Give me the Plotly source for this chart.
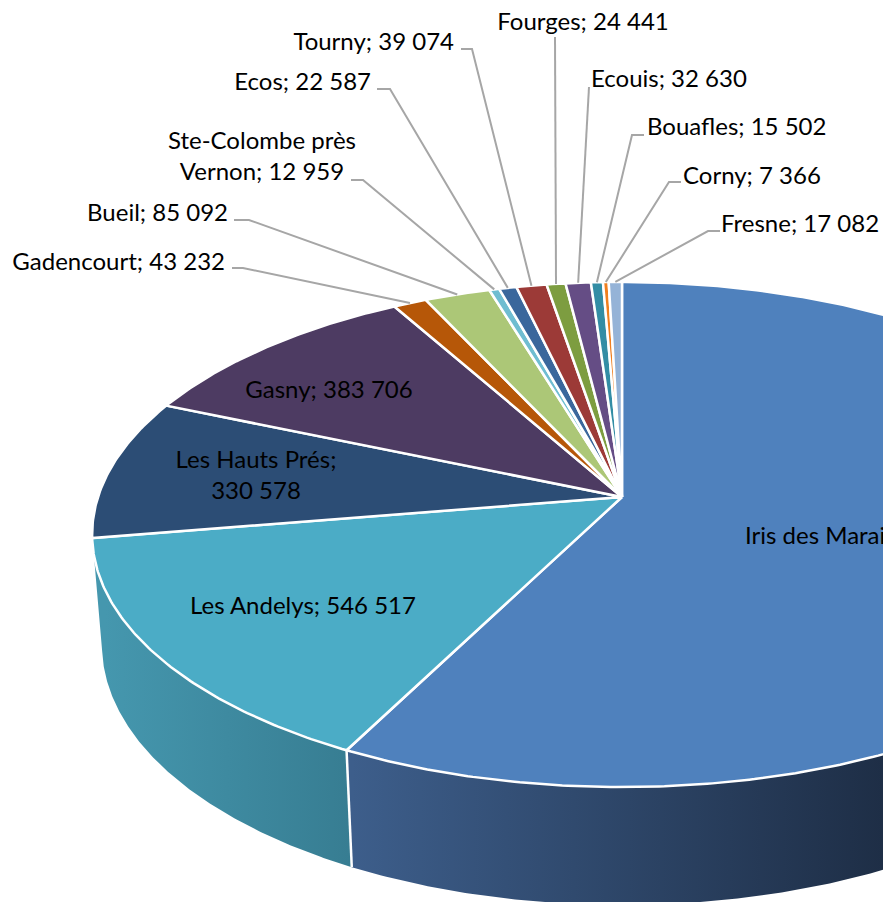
import numpy as np
import plotly.graph_objects as go

# ---- data ----
names = ["Iris des Marais", "Les Andelys", "Les Hauts Prés", "Gasny", "Gadencourt", "Bueil",
         "Ste-Colombe près Vernon", "Ecos", "Tourny", "Fourges", "Ecouis", "Bouafles", "Corny", "Fresne"]
values = [2115000, 546517, 330578, 383706, 43232, 85092, 12959, 22587, 39074, 24441, 32630, 15502, 7366, 17082]
colors = ["#4F81BD", "#4BACC6", "#2C4D75", "#4D3B62", "#B65708", "#ACC777", "#6FBDD1",
          "#3A679C", "#9C3A37", "#7D9D40", "#654D85", "#338DA5", "#F07F1F", "#95B3D7"]

# ---- projection of the tilted pie (pixel space) ----
CX, APEX_Y = 622.0, 497.0
K, A, B = 0.1485, 524.0, 247.0
TOP_RX, BOT_RX, BOT_CY, BOT_RY = 530.0, 520.0, 645.0, 260.0
FONT = "Lato"
FS = 24
DY = 2.5


def top_xy(t):
    t = np.radians(t)
    w = 1 + K * np.cos(t)
    return CX + A * np.sin(t) / w, APEX_Y - B * np.cos(t) / w


def bot_xy(t):
    xt, _ = top_xy(t)
    x = CX + (xt - CX) * BOT_RX / TOP_RX
    return x, BOT_CY + BOT_RY * np.sqrt(np.clip(1 - ((x - CX) / BOT_RX) ** 2, 0, 1))


fig = go.Figure()
vals = np.array(values, float)
edges = np.concatenate([[0], np.cumsum(vals)]) / vals.sum() * 360
TAN_R, TAN_L = 98.54, 261.46


def wall(t0, t1, c0, c1, x0, x1):
    t = np.linspace(t0, t1, 200)
    xa, ya = top_xy(t)
    xb, yb = bot_xy(t[::-1])
    fig.add_trace(go.Scatter(
        x=np.r_[xa, xb], y=np.r_[ya, yb], mode="lines", fill="toself", hoverinfo="skip",
        line=dict(width=0, color="rgba(0,0,0,0)"),
        fillgradient=dict(type="horizontal", colorscale=[[0, c0], [1, c1]], start=x0, stop=x1)))


split = edges[1]
wall(TAN_R, split, "#1E2E46", "#3D5E8B", 883, 352)
wall(split, TAN_L, "#377D92", "#4597AE", 350, 105)
xs = np.array([top_xy(split)[0], bot_xy(split)[0]])
ys = np.array([top_xy(split)[1], bot_xy(split)[1]])
fig.add_trace(go.Scatter(x=xs, y=ys, mode="lines", hoverinfo="skip", line=dict(color="white", width=2.5)))

for i in range(len(vals)):
    t = np.linspace(edges[i], edges[i + 1], max(3, int((edges[i + 1] - edges[i]) * 2)))
    x, y = top_xy(t)
    fig.add_trace(go.Scatter(x=np.r_[CX, x, CX], y=np.r_[APEX_Y, y, APEX_Y], mode="lines", fill="toself",
                             fillcolor=colors[i], hoverinfo="skip",
                             line=dict(color="white", width=2.5)))


def fmt(v):
    return f"{v:,}".replace(",", " ")


# ---- leader lines: name index -> elbow pixels ----
leaders = {4: [(232, 268), (243, 268)], 5: [(234, 220), (249, 220)], 6: [(351, 180), (363, 180)],
           7: [(377, 89), (390, 89)], 8: [(461, 49), (472, 49)], 9: [(555, 37)],
           10: [(589, 87)], 11: [(644, 135), (632, 135)], 12: [(681, 182), (669, 182)],
           13: [(720, 231), (708, 231)]}
for i, pts in leaders.items():
    ex, ey = top_xy((edges[i] + edges[i + 1]) / 2)
    fig.add_trace(go.Scatter(x=[p[0] for p in pts] + [ex], y=[p[1] for p in pts] + [ey], mode="lines",
                             hoverinfo="skip", line=dict(color="#A6A6A6", width=2)))

# ---- labels: index -> pixel anchor, position ----
labels = {
    0: (745, 535, "middle right", None),
    1: (303, 605, "middle center", None),
    2: (256, 475, "middle center", "Les Hauts Prés;<br>330 578"),
    3: (329, 389, "middle center", None),
    4: (225, 261, "middle left", None),
    5: (228, 212, "middle left", None),
    6: (262, 156, "middle center", "Ste-Colombe près<br>Vernon; 12 959"),
    7: (371, 81, "middle left", None),
    8: (454, 41, "middle left", None),
    9: (583, 21, "middle center", None),
    10: (591, 78, "middle right", None),
    11: (647, 126, "middle right", None),
    12: (683, 175, "middle right", None),
    13: (721, 223, "middle right", None),
}
for i, (x, y, pos, txt) in labels.items():
    fig.add_trace(go.Scatter(x=[x], y=[y + DY], mode="text", textposition=pos, hoverinfo="skip",
                             text=[txt or f"{names[i]}; {fmt(values[i])}"],
                             textfont=dict(family=FONT, size=FS, color="black")))

fig.update_layout(width=883, height=902, margin=dict(l=0, r=0, t=0, b=0), showlegend=False,
                  paper_bgcolor="white", plot_bgcolor="white",
                  xaxis=dict(range=[0, 883], visible=False, fixedrange=True),
                  yaxis=dict(range=[902, 0], visible=False, fixedrange=True))
fig.write_html("out.html", config=dict(displayModeBar=False),
               post_script="document.body.style.margin='0';document.body.style.overflow='hidden';")
